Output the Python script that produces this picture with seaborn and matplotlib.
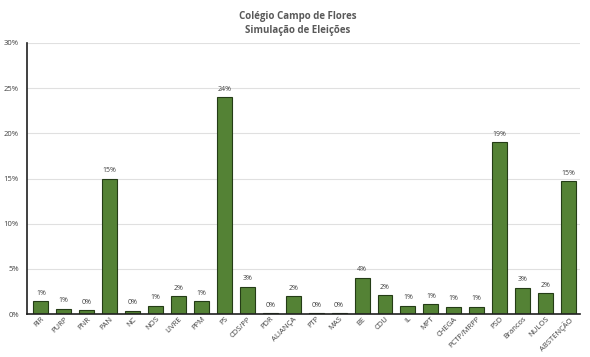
import numpy as np
import pandas as pd
import seaborn as sns
import matplotlib.pyplot as plt
from matplotlib.ticker import PercentFormatter

# data (percent of votes)
partidos = ["RIR", "PURP", "PNR", "PAN", "NC", "NOS", "LIVRE", "PPM", "PS", "CDS/PP",
            "PDR", "ALIANÇA", "PTP", "MAS", "BE", "CDU", "IL", "MPT", "CHEGA",
            "PCTP/MRPP", "PSD", "Brancos", "NULOS", "ABSTENÇÃO"]
votos = [1.45, 0.6, 0.45, 15.0, 0.4, 0.95, 2.0, 1.4, 24.0, 3.05,
         0.1, 2.0, 0.1, 0.1, 4.0, 2.1, 0.9, 1.1, 0.8,
         0.8, 19.0, 2.9, 2.3, 14.7]
rotulos = ["1%", "1%", "0%", "15%", "0%", "1%", "2%", "1%", "24%", "3%",
           "0%", "2%", "0%", "0%", "4%", "2%", "1%", "1%", "1%",
           "1%", "19%", "3%", "2%", "15%"]

df = pd.DataFrame({"partido": partidos, "votos": votos})

sns.set_style("white")
plt.rcParams['font.family'] = ['Open Sans', 'DejaVu Sans']

fig = plt.figure(figsize=(5.9, 3.57), dpi=100)
ax = fig.add_axes([0.046, 0.12, 0.937, 0.76])

sns.barplot(data=df, x="partido", y="votos", color="#548235", saturation=1,
            edgecolor="#243c16", linewidth=0.8, width=0.65, ax=ax)

for i, (v, t) in enumerate(zip(votos, rotulos)):
    ax.text(i, v + 0.5, t, ha="center", va="bottom", fontsize=5, color="#404040")

ax.set_ylim(0, 30)
ax.set_xlim(-0.6, len(partidos) - 0.5)
ax.set_yticks(np.arange(0, 31, 5))
ax.yaxis.set_major_formatter(PercentFormatter(decimals=0))
ax.yaxis.grid(True, color="#e0e0e0", linewidth=0.8)
ax.set_axisbelow(True)
ax.set_xlabel("")
ax.set_ylabel("")
ax.tick_params(axis="y", labelsize=5.5, colors="#404040", length=0, pad=6)
ax.tick_params(axis="x", labelsize=5.5, colors="#404040", length=0, pad=1)
plt.setp(ax.get_xticklabels(), rotation=45, ha="right", rotation_mode="anchor")

for s in ["top", "right"]:
    ax.spines[s].set_visible(False)
ax.spines["left"].set_color("#202020")
ax.spines["left"].set_linewidth(1.2)
ax.spines["bottom"].set_color("#202020")
ax.spines["bottom"].set_linewidth(1.2)

fig.text(0.505, 0.955, "Colégio Campo de Flores", ha="center", va="center",
         fontsize=7, fontweight="bold", color="#595959")
fig.text(0.505, 0.915, "Simulação de Eleições", ha="center", va="center",
         fontsize=7, fontweight="bold", color="#595959")

fig.savefig("out.png", dpi=100)
